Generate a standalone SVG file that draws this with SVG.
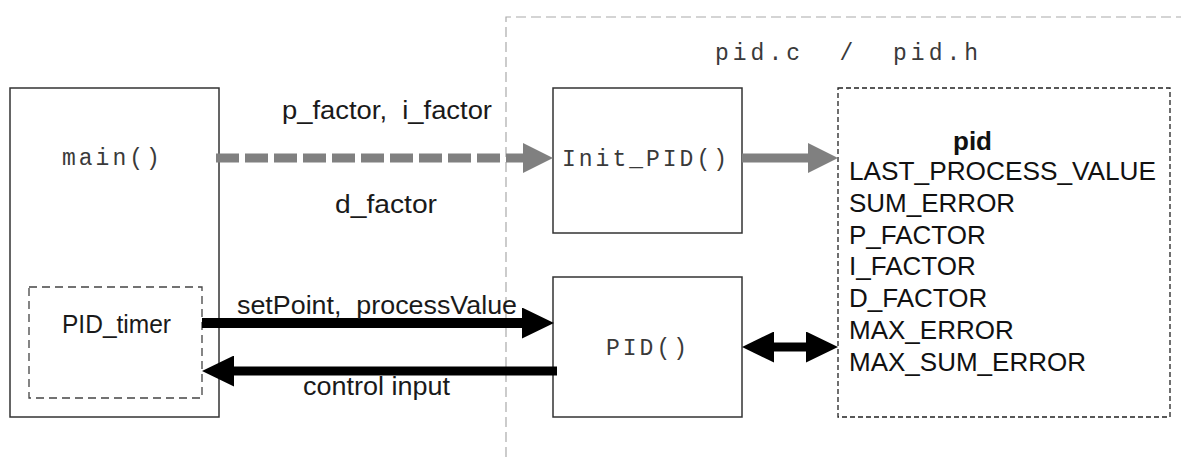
<svg xmlns="http://www.w3.org/2000/svg" width="1181" height="457" viewBox="0 0 1181 457">
<defs>
<style>
.box{fill:#fff;stroke:#333;stroke-width:1.5}
.mono{font-family:"Liberation Mono","Courier New",monospace;font-size:23px;fill:#3a3a3a;letter-spacing:3px;white-space:pre}
.sans{font-family:"Liberation Sans",Arial,sans-serif;font-size:26px;fill:#1a1a1a;white-space:pre}
.lst{font-family:"Liberation Sans",Arial,sans-serif;font-size:26px;fill:#111}
</style>
<marker id="ga" viewBox="0 0 30 30" refX="0" refY="15" markerWidth="30" markerHeight="30" markerUnits="userSpaceOnUse" orient="auto"><path d="M0,0 L30,15 L0,30 z" fill="#808080"/></marker>
<marker id="ba" viewBox="0 0 32 31" refX="0" refY="15.5" markerWidth="32" markerHeight="31" markerUnits="userSpaceOnUse" orient="auto-start-reverse"><path d="M0,0 L32,15.5 L0,31 z" fill="#000"/></marker>
</defs>
<rect width="1181" height="457" fill="#fff"/>
<g id="region">
<path d="M506,457 V17 H1181" fill="none" stroke="#aaa" stroke-width="1.2" stroke-dasharray="10,5"/>
<text class="mono" x="715" y="60" style="letter-spacing:4px">pid.c  /  pid.h</text>
</g>
<g id="main">
<rect class="box" x="10" y="88" width="209" height="329"/>
<text class="mono" x="62" y="165">main()</text>
</g>
<g id="pid_timer">
<rect x="29" y="287" width="173" height="111" fill="none" stroke="#444" stroke-width="1.3" stroke-dasharray="8,5"/>
<text class="sans" x="62" y="333" textLength="109" lengthAdjust="spacingAndGlyphs">PID_timer</text>
</g>
<g id="init_pid">
<rect class="box" x="553" y="88" width="189" height="145"/>
<text class="mono" x="562" y="166">Init_PID()</text>
</g>
<g id="pid_fn">
<rect class="box" x="553" y="277" width="189" height="140"/>
<text class="mono" x="606" y="355">PID()</text>
</g>
<g id="pid_struct">
<rect x="838" y="88" width="332" height="329" fill="#fff" stroke="#222" stroke-width="1.3" stroke-dasharray="5,3"/>
<text class="lst" x="953" y="150" font-weight="bold" textLength="39" lengthAdjust="spacingAndGlyphs">pid</text>
<text class="lst" x="849" y="180" textLength="307" lengthAdjust="spacingAndGlyphs">LAST_PROCESS_VALUE</text>
<text class="lst" x="849" y="212">SUM_ERROR</text>
<text class="lst" x="849" y="244">P_FACTOR</text>
<text class="lst" x="849" y="275">I_FACTOR</text>
<text class="lst" x="849" y="307">D_FACTOR</text>
<text class="lst" x="849" y="339">MAX_ERROR</text>
<text class="lst" x="849" y="371">MAX_SUM_ERROR</text>
</g>
<g id="connectors">
<line x1="216" y1="158" x2="523" y2="158" stroke="#808080" stroke-width="9" stroke-dasharray="23,6" marker-end="url(#ga)"/>
<line x1="742" y1="158" x2="808" y2="158" stroke="#808080" stroke-width="9" marker-end="url(#ga)"/>
<line x1="202" y1="323" x2="522" y2="323" stroke="#000" stroke-width="10" marker-end="url(#ba)"/>
<line x1="557" y1="371" x2="234" y2="371" stroke="#000" stroke-width="9" marker-end="url(#ba)"/>
<line x1="774" y1="347" x2="806" y2="347" stroke="#000" stroke-width="9" marker-start="url(#ba)" marker-end="url(#ba)"/>
<text class="sans" x="282" y="119" textLength="210" lengthAdjust="spacingAndGlyphs">p_factor,  i_factor</text>
<text class="sans" x="335" y="213" textLength="102" lengthAdjust="spacingAndGlyphs">d_factor</text>
<text class="sans" x="237" y="314" textLength="280" lengthAdjust="spacingAndGlyphs">setPoint,  processValue</text>
<text class="sans" x="303" y="395" textLength="147" lengthAdjust="spacingAndGlyphs">control input</text>
</g>
</svg>
